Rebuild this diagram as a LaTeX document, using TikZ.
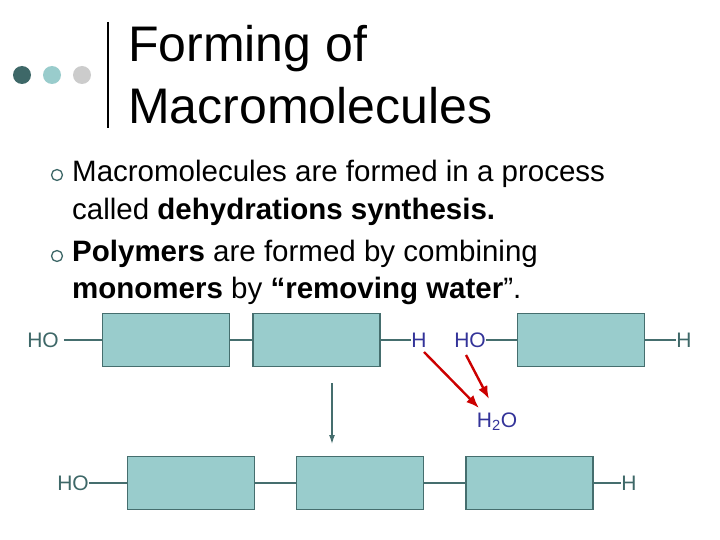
\documentclass[tikz,border=0pt]{standalone}
\usepackage{fontspec}
\setmainfont{Liberation Sans}
\usetikzlibrary{arrows.meta}
\definecolor{boxf}{HTML}{99CCCC}
\definecolor{boxd}{HTML}{456E6E}
\definecolor{tealt}{HTML}{3E6868}
\definecolor{bluet}{HTML}{333399}
\definecolor{redt}{HTML}{CC0000}
\begin{document}
\begin{tikzpicture}[x=1pt,y=-1pt,
  mono/.style={draw=boxd,fill=boxf,line width=1.5pt,minimum width=127pt,minimum height=53pt,inner sep=0pt},
  lbl/.style={font=\fontsize{21}{22}\selectfont,inner sep=0pt,text=tealt},
  blbl/.style={font=\fontsize{21}{22}\selectfont,inner sep=0pt,text=bluet},
  bond/.style={draw=boxd,line width=1.3pt},
  body/.style={font=\fontsize{29.5}{32}\selectfont,anchor=west,inner sep=0pt},
  bul/.style={circle,draw=tealt,line width=1.3pt,minimum size=11pt,inner sep=0pt},
  redarr/.style={draw=redt,line width=2.4pt,-{Latex[length=13pt,width=10pt]}}]
\useasboundingbox (0,0) rectangle (720,540);
\fill[white] (0,0) rectangle (720,540);
% header
\fill[tealt] (22,75) circle (9);
\fill[boxf] (52,75) circle (9);
\fill[black!20] (82,75) circle (9);
\draw[line width=1.8pt] (108,22) -- (108,128);
\node[anchor=west,font=\fontsize{50}{54}\selectfont,inner sep=0pt] (t1) at (128,49) {Forming of};
\node[anchor=west,font=\fontsize{50}{54}\selectfont,inner sep=0pt] (t2) at (128,106) {Macromolecules};
% bullets
\node[bul] (b1) at (57,175) {};
\node[body] (l1) at (72,174) {Macromolecules are formed in a process};
\node[body] (l2) at (72,212) {called \textbf{dehydrations synthesis.}};
\node[bul] (b2) at (57,256) {};
\node[body] (l3) at (72,254) {\textbf{Polymers} are formed by combining};
\node[body] (l4) at (72,291) {\textbf{monomers} by \textbf{“removing water}”.};
% top row
\node[mono] (m1) at (166,340) {};
\node[mono] (m2) at (316.5,340) {};
\node[mono] (m3) at (581,340) {};
\node[lbl] (ho1) at (43,340) {HO};
\node[blbl] (h1) at (419,340) {H};
\node[blbl] (ho2) at (470,340) {HO};
\node[lbl] (h2) at (684,340) {H};
\draw[bond] (ho1.east) ++(5,0) -- (m1.west);
\draw[bond] (m1.east) -- (m2.west);
\draw[bond] (m2.east) -- (h1.west);
\draw[bond] (ho2.east) -- (m3.west);
\draw[bond] (m3.east) -- (h2.west);
% arrows
\coordinate (a1) at (332,383);
\coordinate (a2) at (332,444);
\draw[bond,-{Latex[length=9pt,width=6pt]}] (a1) -- (a2);
\node[blbl] (w) at (497,422) {H\textsubscript{2}O};
\coordinate (r1) at (424,352); \coordinate (r2) at (479,408);
\coordinate (r3) at (466,355); \coordinate (r4) at (489,399);
\draw[redarr] (r1) -- (r2);
\draw[redarr] (r3) -- (r4);
% bottom row
\node[mono] (n1) at (191,483) {};
\node[mono] (n2) at (360,483) {};
\node[mono] (n3) at (529.5,483) {};
\node[lbl] (ho3) at (73,483) {HO};
\node[lbl] (h3) at (629,483) {H};
\draw[bond] (ho3.east) -- (n1.west);
\draw[bond] (n1.east) -- (n2.west);
\draw[bond] (n2.east) -- (n3.west);
\draw[bond] (n3.east) -- (h3.west);
\end{tikzpicture}
\end{document}
